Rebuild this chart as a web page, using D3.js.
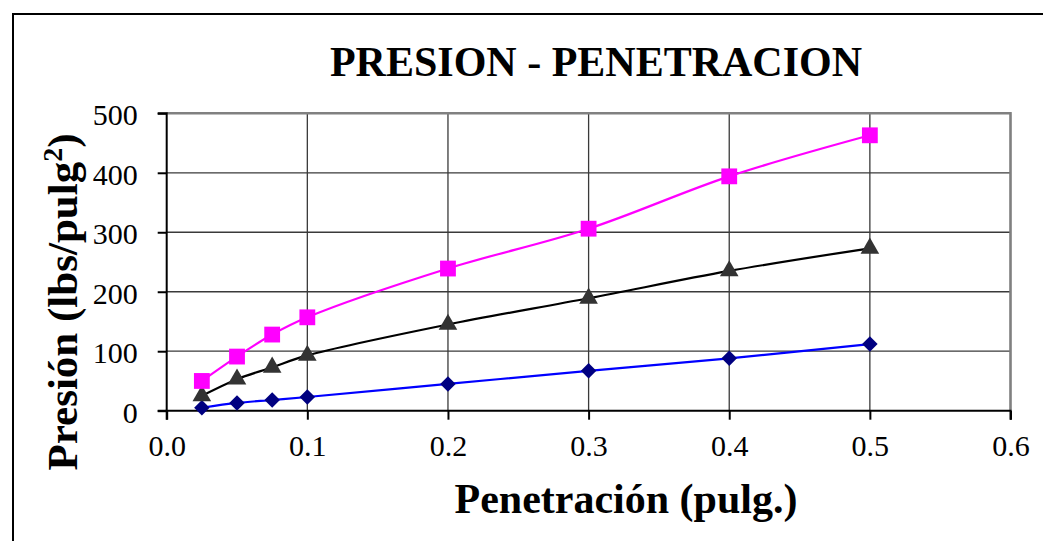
<!DOCTYPE html>
<html>
<head>
<meta charset="utf-8">
<script src="https://cdn.jsdelivr.net/npm/d3@7"></script>
<style>
  html, body { margin: 0; padding: 0; background: #ffffff; }
  svg { display: block; }
  text { font-family: "Liberation Serif", "Times New Roman", serif; fill: #000; }
</style>
</head>
<body>
<svg id="chart" width="1043" height="541"></svg>
<script>
// Penetration readings (inches)
const penetracion = [0.025, 0.05, 0.075, 0.1, 0.2, 0.3, 0.4, 0.5];

// Pressure series (lbs/pulg²)
const serieAlta  = [50, 91, 128, 157, 239, 306, 394, 463];
const serieMedia = [25, 53, 73, 93, 145, 189, 235, 273];
const serieBaja  = [5, 13, 18, 23, 45, 67, 88, 112];

const xTicks = [0, 0.1, 0.2, 0.3, 0.4, 0.5, 0.6];
const yTicks = [0, 100, 200, 300, 400, 500];

const titulo = "PRESION - PENETRACION";
const tituloX = "Penetración (pulg.)";

const svg = d3.select("#chart");

// outer chart frame
svg.append("rect")
  .attr("x", 13).attr("y", 14)
  .attr("width", 1100).attr("height", 600)
  .attr("fill", "#fff")
  .attr("stroke", "#000")
  .attr("stroke-width", 2);

const x = d3.scaleLinear().domain([0, 0.6]).range([166.7, 1010.5]);
const y = d3.scaleLinear().domain([0, 500]).range([410.7, 113.3]);

// grid lines
const grid = svg.append("g");
grid.selectAll("line.h").data(yTicks.slice(1)).join("line")
  .attr("x1", x(0)).attr("x2", x(0.6))
  .attr("y1", d => y(d)).attr("y2", d => y(d))
  .attr("stroke", "#3a3a3a").attr("stroke-width", 1.3);
grid.selectAll("line.v").data(xTicks.slice(1)).join("line")
  .attr("y1", y(0)).attr("y2", y(500))
  .attr("x1", d => x(d)).attr("x2", d => x(d))
  .attr("stroke", "#3a3a3a").attr("stroke-width", 1.3);

// plot area border (top and right)
svg.append("path")
  .attr("d", `M${x(0)},${y(500)}H${x(0.6)}V${y(0)}`)
  .attr("fill", "none")
  .attr("stroke", "#808080")
  .attr("stroke-width", 2.5);

// axes
const yAxis = d3.axisLeft(y).tickValues(yTicks).tickSize(9).tickPadding(20)
  .tickFormat(d3.format("d"));
const gy = svg.append("g").attr("transform", `translate(${x(0)},0)`).call(yAxis);
const xAxis = d3.axisBottom(x).tickValues(xTicks).tickSize(9).tickPadding(24)
  .tickFormat(d3.format(".1f"));
const gx = svg.append("g").attr("transform", `translate(0,${y(0)})`).call(xAxis);

[gx, gy].forEach(g => {
  g.select(".domain").attr("stroke", "#000").attr("stroke-width", 2);
  g.selectAll(".tick line").attr("stroke", "#000").attr("stroke-width", 2);
  g.selectAll(".tick text")
    .style("font-family", '"Liberation Serif", "Times New Roman", serif')
    .style("font-size", "30px")
    .attr("fill", "#000");
});
gy.select(".domain").attr("d", `M-9,${y(500)}H0V${y(0)}H-9`);
gy.selectAll(".tick text").attr("dy", "0.38em");
gx.select(".domain").attr("d", `M${x(0)},9V0H${x(0.6)}V9`);
gx.selectAll(".tick text").attr("dy", "0.4em");

// series
const diamante = {
  draw(ctx, size) {
    const r = Math.sqrt(size / 2);
    ctx.moveTo(0, -r); ctx.lineTo(r, 0); ctx.lineTo(0, r); ctx.lineTo(-r, 0); ctx.closePath();
  }
};
const serie = [
  { vals: serieAlta,  line: "#ff00ff", mark: "#ff00ff", shape: d3.symbolSquare,   size: 250 },
  { vals: serieMedia, line: "#000000", mark: "#333333", shape: d3.symbolTriangle, size: 150 },
  { vals: serieBaja,  line: "#0000ff", mark: "#000080", shape: diamante,          size: 120 }
];

const linea = d3.line()
  .x(d => x(d[0])).y(d => y(d[1]))
  .curve(d3.curveCatmullRom.alpha(0.5));

serie.slice().reverse().forEach(s => {
  const pts = penetracion.map((p, i) => [p, s.vals[i]]);
  svg.append("path")
    .attr("d", linea(pts))
    .attr("fill", "none")
    .attr("stroke", s.line)
    .attr("stroke-width", 2.2);
});
serie.slice().reverse().forEach(s => {
  const pts = penetracion.map((p, i) => [p, s.vals[i]]);
  svg.append("g").selectAll("path").data(pts).join("path")
    .attr("transform", d => `translate(${x(d[0])},${y(d[1])})`)
    .attr("d", d3.symbol(s.shape, s.size))
    .attr("fill", s.mark);
});

// titles
svg.append("text")
  .attr("x", 596).attr("y", 76)
  .attr("text-anchor", "middle")
  .style("font-size", "42px").style("font-weight", "bold")
  .text(titulo);

svg.append("text")
  .attr("x", 626).attr("y", 513)
  .attr("text-anchor", "middle")
  .style("font-size", "42px").style("font-weight", "bold")
  .text(tituloX);

const ty = svg.append("text")
  .attr("transform", "translate(77,302) rotate(-90)")
  .attr("text-anchor", "middle")
  .style("font-size", "43px").style("font-weight", "bold");
ty.append("tspan").text("Presión (lbs/pulg");
ty.append("tspan").attr("dy", -15).style("font-size", "28px").text("2");
ty.append("tspan").attr("dy", 15).text(")");
</script>
</body>
</html>
